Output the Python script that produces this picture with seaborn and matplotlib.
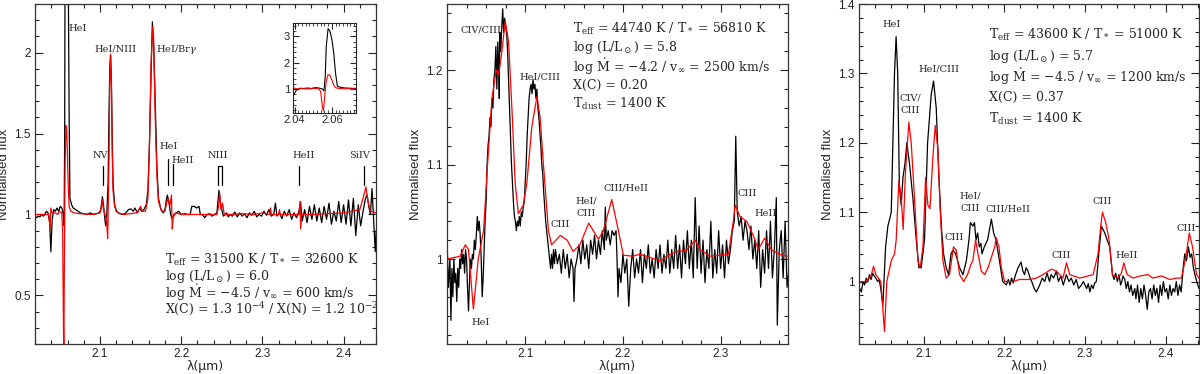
import numpy as np
import seaborn as sns
import matplotlib
matplotlib.use("Agg")
import matplotlib.pyplot as plt
from matplotlib.ticker import MultipleLocator, FuncFormatter

# ---- panel 1 : observed (black) and model (red) ----
p1_obs_wl = [2.020, 2.022, 2.024, 2.026, 2.028, 2.030, 2.032, 2.034, 2.036, 2.038,
             2.0395, 2.041, 2.043, 2.045, 2.047, 2.049, 2.051, 2.053, 2.055, 2.0558,
             2.0565, 2.057, 2.058, 2.059, 2.060, 2.061, 2.062, 2.063, 2.065, 2.067,
             2.070, 2.073, 2.076, 2.080, 2.084, 2.088, 2.092, 2.096, 2.099, 2.101,
             2.103, 2.1045, 2.106, 2.107, 2.108, 2.110, 2.111, 2.112, 2.113, 2.114,
             2.115, 2.116, 2.118, 2.120, 2.124, 2.128, 2.132, 2.135, 2.138, 2.141,
             2.143, 2.146, 2.149, 2.151, 2.154, 2.157, 2.159, 2.161, 2.163, 2.1645,
             2.166, 2.168, 2.170, 2.172, 2.175, 2.178, 2.180, 2.182, 2.183, 2.185,
             2.187, 2.189, 2.191, 2.194, 2.197, 2.200, 2.204, 2.208, 2.211, 2.213,
             2.216, 2.219, 2.222, 2.2235, 2.226, 2.229, 2.232, 2.235, 2.238, 2.241,
             2.244, 2.2465, 2.248, 2.250, 2.252, 2.254, 2.256, 2.258, 2.260, 2.263,
             2.266, 2.269, 2.272, 2.275, 2.278, 2.281, 2.284, 2.287, 2.290, 2.293,
             2.296, 2.299, 2.302, 2.305, 2.308, 2.311, 2.314, 2.316, 2.318, 2.321,
             2.324, 2.327, 2.330, 2.333, 2.336, 2.339, 2.342, 2.345, 2.347, 2.349,
             2.352, 2.355, 2.358, 2.361, 2.364, 2.367, 2.370, 2.373, 2.376, 2.379,
             2.382, 2.385, 2.388, 2.391, 2.394, 2.397, 2.400, 2.403, 2.406, 2.409,
             2.412, 2.415, 2.418, 2.421, 2.424, 2.427, 2.429, 2.431, 2.433, 2.435,
             2.437, 2.439, 2.440]
p1_obs_f = [0.99, 0.98, 0.99, 0.985, 1.0, 0.99, 1.0, 1.02, 1.01, 0.95,
            0.77, 0.96, 1.03, 1.02, 1.04, 1.02, 1.05, 1.04, 1.0, 0.93,
            1.5, 2.6, 3.3, 3.2, 2.9, 2.4, 1.6, 1.1, 1.06, 1.04,
            1.03, 1.02, 1.01, 1.005, 1.0, 1.01, 1.0, 1.005, 1.01, 1.03,
            1.11, 1.05, 0.97, 0.93, 0.96, 1.2, 1.6, 1.9, 1.98, 1.85,
            1.5, 1.2, 1.06, 1.02, 1.005, 1.0, 1.01, 1.03, 1.035, 1.02,
            1.04, 1.01, 1.04, 1.02, 1.03, 1.06, 1.15, 1.45, 1.9, 2.19,
            2.05, 1.7, 1.3, 1.1, 1.03, 1.01, 1.03, 1.1, 1.12, 1.07,
            1.0, 0.97, 1.0, 1.01, 1.02, 1.0, 1.005, 1.0, 1.0, 1.05,
            1.05, 1.04, 1.05, 1.0, 1.0, 0.98, 1.0, 1.005, 0.99, 1.0,
            1.01, 1.15, 1.08, 1.03, 0.99, 1.0, 1.01, 0.985, 1.0, 0.99,
            1.015, 0.985, 1.01, 0.99, 1.005, 0.98, 1.01, 0.995, 1.02, 0.985,
            1.0, 0.99, 1.02, 0.995, 1.03, 0.99, 1.0, 1.07, 0.99, 1.01,
            0.975, 1.02, 0.99, 1.03, 0.97, 1.01, 0.98, 1.02, 1.08, 0.96,
            1.03, 0.95, 1.05, 0.97, 1.06, 0.96, 1.04, 0.95, 1.05, 0.97,
            1.07, 0.94, 1.02, 0.96, 1.08, 0.95, 1.06, 0.94, 1.09, 0.93,
            1.1, 0.87, 1.06, 0.93, 1.02, 1.1, 1.12, 1.05, 1.0, 1.16,
            0.96, 0.77, 0.9]

p1_mod_wl = [2.020, 2.030, 2.037, 2.0385, 2.0395, 2.041, 2.045, 2.048, 2.050, 2.053,
             2.054, 2.055, 2.0555, 2.056, 2.057, 2.058, 2.059, 2.060, 2.061, 2.062,
             2.064, 2.068, 2.075, 2.090, 2.100, 2.102, 2.103, 2.104, 2.106, 2.108,
             2.1095, 2.111, 2.112, 2.113, 2.114, 2.115, 2.116, 2.118, 2.122, 2.130,
             2.145, 2.148, 2.150, 2.152, 2.156, 2.159, 2.161, 2.163, 2.165, 2.166,
             2.168, 2.170, 2.172, 2.176, 2.180, 2.182, 2.184, 2.186, 2.188, 2.189,
             2.190, 2.193, 2.200, 2.230, 2.244, 2.246, 2.2475, 2.249, 2.251, 2.253,
             2.260, 2.275, 2.290, 2.300, 2.309, 2.310, 2.311, 2.320, 2.321, 2.322,
             2.345, 2.3465, 2.347, 2.3485, 2.360, 2.400, 2.420, 2.425, 2.4275, 2.430,
             2.433, 2.440]
p1_mod_f = [1.0, 1.0, 1.0, 0.91, 1.04, 1.01, 1.01, 1.0, 1.02, 1.01,
            0.9, 0.3, 0.17, 0.6, 1.3, 1.55, 1.52, 1.35, 1.15, 1.05,
            1.02, 1.01, 1.005, 1.0, 1.01, 1.05, 1.09, 1.04, 1.0, 0.97,
            0.85, 1.3, 1.8, 1.99, 1.8, 1.4, 1.15, 1.05, 1.01, 1.0,
            1.01, 1.03, 1.05, 1.02, 1.02, 1.1, 1.45, 1.95, 2.16, 2.1,
            1.6, 1.25, 1.08, 1.02, 1.02, 1.07, 1.1, 1.05, 1.12, 0.91,
            0.98, 1.01, 1.0, 1.0, 1.0, 1.05, 1.13, 1.03, 1.07, 1.0,
            1.0, 1.005, 1.0, 1.01, 1.0, 1.04, 1.0, 1.0, 1.03, 1.0,
            1.0, 1.08, 0.91, 1.0, 1.0, 1.01, 1.03, 1.12, 1.17, 1.08,
            1.02, 1.01]

# ---- panel 2 ----
p2_obs_wl = [2.020, 2.0215, 2.023, 2.024, 2.025, 2.026, 2.027, 2.028, 2.029, 2.030,
             2.031, 2.032, 2.033, 2.034, 2.035, 2.036, 2.037, 2.038, 2.039, 2.040,
             2.041, 2.042, 2.043, 2.044, 2.045, 2.046, 2.047, 2.048, 2.049, 2.050,
             2.051, 2.052, 2.053, 2.054, 2.055, 2.056, 2.057, 2.058, 2.059, 2.060,
             2.061, 2.062, 2.063, 2.064, 2.065, 2.066, 2.067, 2.068, 2.069, 2.070,
             2.071, 2.072, 2.073, 2.0735, 2.074, 2.075, 2.076, 2.077, 2.078, 2.079,
             2.080, 2.081, 2.082, 2.083, 2.084, 2.085, 2.086, 2.087, 2.088, 2.089,
             2.090, 2.091, 2.092, 2.093, 2.094, 2.095, 2.096, 2.097, 2.098, 2.099,
             2.100, 2.101, 2.102, 2.103, 2.104, 2.105, 2.106, 2.107, 2.108, 2.109,
             2.110, 2.111, 2.112, 2.113, 2.114, 2.115, 2.116, 2.117, 2.118, 2.119,
             2.120, 2.121, 2.122, 2.123, 2.124, 2.125, 2.126, 2.127, 2.128, 2.129,
             2.130, 2.131, 2.133, 2.135, 2.137, 2.139, 2.141, 2.143, 2.145, 2.147,
             2.149, 2.150, 2.151, 2.153, 2.155, 2.157, 2.159, 2.161, 2.163, 2.165,
             2.167, 2.169, 2.171, 2.173, 2.175, 2.177, 2.179, 2.181, 2.182, 2.183,
             2.185, 2.187, 2.189, 2.191, 2.193, 2.194, 2.195, 2.196, 2.198, 2.200,
             2.202, 2.204, 2.206, 2.208, 2.210, 2.212, 2.214, 2.216, 2.218, 2.220,
             2.222, 2.224, 2.226, 2.228, 2.230, 2.232, 2.234, 2.236, 2.238, 2.240,
             2.242, 2.244, 2.246, 2.248, 2.250, 2.252, 2.254, 2.256, 2.258, 2.260,
             2.262, 2.264, 2.266, 2.268, 2.270, 2.272, 2.274, 2.276, 2.278, 2.280,
             2.282, 2.284, 2.286, 2.288, 2.290, 2.292, 2.294, 2.296, 2.298, 2.300,
             2.302, 2.304, 2.306, 2.308, 2.310, 2.312, 2.314, 2.3155, 2.317, 2.319,
             2.321, 2.323, 2.325, 2.327, 2.329, 2.331, 2.333, 2.335, 2.337, 2.339,
             2.341, 2.343, 2.345, 2.347, 2.349, 2.351, 2.353, 2.355, 2.357, 2.358,
             2.360, 2.362, 2.364, 2.366, 2.368, 2.370]
p2_obs_f = [1.02, 0.97, 1.0, 0.935, 0.99, 0.96, 1.0, 0.975, 0.985, 0.955,
            0.99, 0.97, 1.0, 0.99, 1.01, 0.995, 1.005, 0.985, 1.01, 1.0,
            0.97, 0.945, 0.975, 1.0, 0.99, 1.005, 1.0, 1.02, 1.01, 1.025,
            1.045, 1.03, 1.04, 1.025, 1.0, 0.96, 0.98, 1.01, 1.04, 1.06,
            1.1, 1.12, 1.13, 1.15, 1.14, 1.17, 1.16, 1.19, 1.2, 1.225,
            1.18, 1.23, 1.2, 1.17, 1.24, 1.22, 1.245, 1.265, 1.24, 1.255,
            1.245, 1.24, 1.22, 1.19, 1.16, 1.13, 1.1, 1.08, 1.06, 1.045,
            1.04, 1.03, 1.04, 1.035, 1.045, 1.035, 1.05, 1.045, 1.055, 1.06,
            1.08, 1.1, 1.13, 1.15, 1.17, 1.18, 1.185, 1.175, 1.19, 1.18,
            1.185, 1.17, 1.18, 1.16, 1.15, 1.135, 1.12, 1.1, 1.09, 1.07,
            1.055, 1.04, 1.03, 1.02, 1.01, 1.0, 0.99, 1.005, 0.99, 1.01,
            0.995, 1.01, 0.995, 1.005, 0.985, 1.01, 0.99, 1.005, 0.98, 1.0,
            0.99, 0.955, 0.99, 1.0, 1.015, 0.995, 1.02, 1.0, 1.015, 0.99,
            1.02, 1.005, 1.025, 1.0, 1.02, 1.005, 1.03, 1.01, 1.055, 1.02,
            1.03, 1.015, 1.03, 1.025, 1.03, 1.0, 0.96, 0.99, 0.975, 1.005,
            0.985, 1.0, 0.95, 0.99, 1.01, 0.98, 1.0, 0.985, 1.01, 0.975,
            1.005, 0.99, 1.015, 0.985, 1.0, 0.98, 1.01, 0.99, 1.015, 0.985,
            1.005, 0.99, 1.02, 0.985, 1.01, 0.99, 1.025, 0.99, 1.015, 0.98,
            1.02, 0.995, 1.03, 0.99, 1.02, 0.98, 1.065, 0.99, 1.035, 0.985,
            1.02, 0.975, 1.01, 0.99, 1.04, 0.98, 1.01, 0.985, 1.03, 0.99,
            1.015, 0.98, 1.02, 0.995, 1.01, 1.03, 1.04, 1.13, 1.05, 1.035,
            1.045, 1.02, 1.04, 1.03, 1.01, 1.035, 1.0, 1.02, 0.99, 1.03,
            0.97, 1.01, 0.985, 1.03, 0.99, 1.04, 0.98, 1.01, 1.065, 0.93,
            1.01, 1.03, 0.98, 1.04, 0.97, 0.99]

p2_mod_wl = [2.020, 2.0335, 2.0387, 2.042, 2.047, 2.052, 2.0574, 2.0615, 2.066, 2.0704,
             2.0728, 2.0762, 2.0796, 2.083, 2.0864, 2.0898, 2.093, 2.098, 2.1017, 2.1068,
             2.112, 2.1153, 2.1187, 2.1238, 2.127, 2.136, 2.143, 2.149, 2.156, 2.165,
             2.175, 2.180, 2.1886, 2.1954, 2.2005, 2.210, 2.2175, 2.238, 2.245, 2.255,
             2.265, 2.274, 2.279, 2.289, 2.308, 2.313, 2.315, 2.3198, 2.3266, 2.3334,
             2.3385, 2.345, 2.352, 2.360, 2.3685]
p2_mod_f = [1.0, 1.003, 1.015, 1.01, 0.947, 1.0, 1.03, 1.1, 1.17, 1.2,
            1.195, 1.22, 1.252, 1.23, 1.16, 1.08, 1.048, 1.057, 1.08, 1.14,
            1.172, 1.15, 1.1, 1.03, 1.015, 1.025, 1.02, 1.008, 1.015, 1.038,
            1.021, 1.03, 1.063, 1.03, 1.004, 1.003, 1.005, 0.998, 1.003, 1.008,
            1.009, 1.02, 1.01, 1.003, 1.005, 1.04, 1.057, 1.045, 1.04, 1.025,
            1.01, 1.022, 1.01, 1.005, 1.003]

# ---- panel 3 ----
p3_obs_wl = [2.0194, 2.021, 2.023, 2.025, 2.027, 2.029, 2.031, 2.033, 2.035, 2.037,
             2.039, 2.041, 2.043, 2.045, 2.047, 2.0496, 2.051, 2.053, 2.0558, 2.058,
             2.060, 2.062, 2.064, 2.066, 2.068, 2.070, 2.0723, 2.0745, 2.077, 2.0793,
             2.0826, 2.0868, 2.091, 2.0942, 2.0971, 2.1012, 2.105, 2.1095, 2.1124, 2.1157,
             2.119, 2.122, 2.1248, 2.128, 2.131, 2.134, 2.1364, 2.1397, 2.1446, 2.1488,
             2.153, 2.1562, 2.158, 2.161, 2.163, 2.165, 2.167, 2.169, 2.171, 2.1723,
             2.1752, 2.1793, 2.184, 2.1868, 2.1897, 2.194, 2.198, 2.2025, 2.205, 2.207,
             2.209, 2.211, 2.214, 2.217, 2.2207, 2.223, 2.225, 2.227, 2.2293, 2.232,
             2.234, 2.237, 2.2397, 2.2438, 2.247, 2.250, 2.253, 2.256, 2.258, 2.261,
             2.2645, 2.267, 2.270, 2.273, 2.2769, 2.280, 2.283, 2.286, 2.289, 2.292,
             2.2955, 2.298, 2.302, 2.304, 2.306, 2.308, 2.310, 2.312, 2.314, 2.317,
             2.3202, 2.3244, 2.3273, 2.3306, 2.3339, 2.336, 2.338, 2.340, 2.342, 2.344,
             2.3455, 2.347, 2.3492, 2.351, 2.353, 2.355, 2.357, 2.359, 2.3616, 2.363,
             2.365, 2.367, 2.369, 2.371, 2.373, 2.375, 2.377, 2.379, 2.381, 2.383,
             2.385, 2.387, 2.389, 2.391, 2.393, 2.395, 2.397, 2.399, 2.401, 2.403,
             2.405, 2.407, 2.409, 2.411, 2.413, 2.415, 2.417, 2.419, 2.4215, 2.4235,
             2.4255, 2.428, 2.430, 2.432, 2.4342, 2.436, 2.4383, 2.441]
p3_obs_f = [0.98, 0.99, 0.985, 1.0, 0.995, 1.005, 1.0, 1.01, 1.003, 1.012,
            1.008, 1.005, 1.0, 1.003, 0.99, 0.966, 1.0, 1.05, 1.08, 1.09,
            1.1, 1.2, 1.3, 1.353, 1.3, 1.14, 1.11, 1.15, 1.17, 1.2,
            1.17, 1.12, 1.06, 1.02, 1.02, 1.06, 1.2, 1.27, 1.289, 1.25,
            1.15, 1.08, 1.04, 1.02, 1.01, 1.04, 1.045, 1.04, 1.02, 1.01,
            1.03, 1.06, 1.085, 1.08, 1.085, 1.06, 1.07, 1.05, 1.055, 1.04,
            1.05, 1.06, 1.09, 1.07, 1.06, 1.03, 1.0, 0.995, 1.003, 0.995,
            1.005, 0.998, 1.01, 1.02, 1.028, 1.015, 1.01, 1.02, 1.015, 1.005,
            1.0, 0.99, 0.985, 0.995, 1.005, 1.0, 1.012, 1.0, 1.01, 1.005,
            1.015, 1.0, 1.008, 0.995, 1.01, 1.0, 1.005, 0.995, 1.003, 0.99,
            0.995, 1.0, 0.99, 0.997, 0.985, 0.995, 0.99, 0.998, 1.0, 1.04,
            1.08, 1.07, 1.06, 1.05, 1.01, 1.003, 1.012, 1.0, 1.01, 0.995,
            1.0, 1.008, 1.003, 0.99, 1.0, 0.985, 0.995, 0.98, 0.99, 0.975,
            0.995, 0.97, 0.99, 0.975, 0.995, 0.98, 0.96, 0.985, 0.99, 0.975,
            0.995, 0.98, 0.99, 0.97, 0.995, 0.98, 1.0, 0.985, 0.99, 0.975,
            0.995, 0.98, 0.99, 0.985, 1.0, 0.98, 0.995, 0.985, 1.02, 1.04,
            1.03, 1.05, 1.035, 1.04, 1.02, 1.01, 1.0, 0.99]

p3_mod_wl = [2.0194, 2.0285, 2.0347, 2.038, 2.0409, 2.0471, 2.0516, 2.0545, 2.06, 2.0641,
             2.0661, 2.0694, 2.0723, 2.0748, 2.0777, 2.0818, 2.0847, 2.0888, 2.093, 2.0959,
             2.0992, 2.1025, 2.1054, 2.1079, 2.1116, 2.1145, 2.1178, 2.1207, 2.124, 2.128,
             2.1322, 2.137, 2.1405, 2.1446, 2.1496, 2.1545, 2.1587, 2.161, 2.1645, 2.1674,
             2.1715, 2.1757, 2.1798, 2.184, 2.1881, 2.19, 2.1934, 2.1963, 2.2004, 2.2107,
             2.219, 2.2314, 2.2397, 2.248, 2.2583, 2.2645, 2.2727, 2.277, 2.281, 2.2934,
             2.31, 2.3161, 2.3194, 2.3215, 2.3256, 2.3298, 2.334, 2.3409, 2.345, 2.348,
             2.3521, 2.3595, 2.3678, 2.378, 2.384, 2.3946, 2.405, 2.4132, 2.4194, 2.4248,
             2.429, 2.4331, 2.438, 2.441]
p3_mod_f = [1.0, 1.0, 1.007, 1.022, 1.01, 1.0, 0.928, 1.0, 1.03, 1.04,
            1.06, 1.145, 1.12, 1.075, 1.16, 1.23, 1.2, 1.12, 1.03, 1.02,
            1.05, 1.15, 1.11, 1.105, 1.18, 1.225, 1.19, 1.1, 1.03, 1.005,
            1.01, 1.05, 1.045, 1.01, 1.0, 1.01, 1.025, 1.03, 1.06, 1.04,
            1.015, 1.01, 1.02, 1.035, 1.05, 1.063, 1.05, 1.02, 1.0, 1.0,
            1.003, 1.003, 1.005, 1.01, 1.018, 1.015, 1.005, 1.027, 1.01, 1.005,
            1.01, 1.04, 1.08, 1.1, 1.085, 1.06, 1.01, 1.005, 1.012, 1.027,
            1.01, 1.005, 1.008, 1.01, 1.005, 1.008, 1.003, 1.005, 1.005, 1.035,
            1.07, 1.05, 1.01, 1.005]

# line identifications (label, wavelength, flux)
p1_labels = [("HeI", 2.0725, 2.15), ("HeI/NIII", 2.1193, 2.02), (r"HeI/Br$\gamma$", 2.194, 2.02),
             ("NV", 2.101, 1.366), ("HeI", 2.185, 1.417), ("HeII", 2.2016, 1.335),
             ("NIII", 2.2445, 1.366), ("HeII", 2.3505, 1.366), ("SiIV", 2.4195, 1.366)]
p1_ticks = [2.1033, 2.1837, 2.1893, 2.3448, 2.4252]
p1_tick_top = [1.298, 1.345, 1.31, 1.298, 1.298]
p2_labels = [("CIV/CIII", 2.055, 1.243), ("HeI/CIII", 2.1153, 1.193), ("CIII", 2.1361, 1.037),
             ("HeI/\nCIII", 2.162, 1.055), ("CIII/HeII", 2.2032, 1.075), ("CIII", 2.3273, 1.069),
             ("HeII", 2.3463, 1.048), ("HeI", 2.0547, 0.933)]
p3_labels = [("HeI", 2.0599, 1.371), ("CIV/\nCIII", 2.0839, 1.255), ("HeI/CIII", 2.119, 1.307),
             ("CIII", 2.1384, 1.064), ("HeI/\nCIII", 2.1583, 1.115), ("CIII/HeII", 2.2045, 1.105),
             ("CIII", 2.2707, 1.037), ("CIII", 2.3207, 1.115), ("HeII", 2.3512, 1.037),
             ("CIII", 2.4256, 1.077)]

p1_text = [r"T$_{\rm eff}$ = 31500 K / T$_*$ = 32600 K",
           r"log (L/L$_\odot$) = 6.0",
           r"log $\dot{\rm M}$ = $-$4.5 / v$_\infty$ = 600 km/s",
           r"X(C) = 1.3 10$^{-4}$ / X(N) = 1.2 10$^{-2}$"]
p2_text = [r"T$_{\rm eff}$ = 44740 K / T$_*$ = 56810 K",
           r"log (L/L$_\odot$) = 5.8",
           r"log $\dot{\rm M}$ = $-$4.2 / v$_\infty$ = 2500 km/s",
           r"X(C) = 0.20",
           r"T$_{\rm dust}$ = 1400 K"]
p3_text = [r"T$_{\rm eff}$ = 43600 K / T$_*$ = 51000 K",
           r"log (L/L$_\odot$) = 5.7",
           r"log $\dot{\rm M}$ = $-$4.5 / v$_\infty$ = 1200 km/s",
           r"X(C) = 0.37",
           r"T$_{\rm dust}$ = 1400 K"]

sns.set_style("ticks")
plt.rcParams['font.family'] = ['Liberation Sans', 'DejaVu Sans']
plt.rcParams['mathtext.fontset'] = 'dejavuserif'

SERIF = 'DejaVu Serif'


def style_axes(ax, xlim, ylim, xminor, ymajor, yminor, fs=8.5):
    ax.set_xlim(*xlim)
    ax.set_ylim(*ylim)
    ax.xaxis.set_major_locator(MultipleLocator(0.1))
    ax.xaxis.set_minor_locator(MultipleLocator(xminor))
    ax.yaxis.set_major_locator(MultipleLocator(ymajor))
    ax.yaxis.set_minor_locator(MultipleLocator(yminor))
    fmt = FuncFormatter(lambda v, p: "%g" % round(v, 3))
    ax.xaxis.set_major_formatter(fmt)
    ax.yaxis.set_major_formatter(fmt)
    ax.tick_params(which='both', direction='in', top=True, right=True,
                   labelsize=fs, width=0.8, colors='#222222', pad=3)
    ax.tick_params(which='major', length=6)
    ax.tick_params(which='minor', length=3)
    for s in ax.spines.values():
        s.set_linewidth(0.9)
        s.set_color('#333333')
    ax.set_xlabel("λ(μm)", fontsize=9, family=['DejaVu Sans'])
    ax.xaxis.set_label_coords(0.5, -0.047)
    ax.set_ylabel("Normalised flux", fontsize=9.5, labelpad=3)


def draw(ax, wo, fo, wm, fm, lw=0.9):
    sns.lineplot(x=wo, y=fo, color='black', lw=lw, ax=ax, estimator=None, sort=False)
    sns.lineplot(x=wm, y=fm, color='red', lw=lw, ax=ax, estimator=None, sort=False)


def put_text(ax, lines, x, ys, fs=9):
    for t, y in zip(lines, ys):
        ax.text(x, y, t, fontsize=fs, family=SERIF, va='center', ha='left')


def put_labels(ax, labels, fs=7):
    for t, x, y in labels:
        ax.text(x, y, t, fontsize=fs, family=SERIF, ha='center', va='center',
                linespacing=1.5)


fig = plt.figure(figsize=(12, 3.74), dpi=100)

ax1 = fig.add_axes([0.0292, 0.0802, 0.2842, 0.909])
draw(ax1, p1_obs_wl, p1_obs_f, p1_mod_wl, p1_mod_f)
style_axes(ax1, (2.02, 2.44), (0.2, 2.3), 0.02, 0.5, 0.1)
put_labels(ax1, p1_labels)
for x, top in zip(p1_ticks, p1_tick_top):
    ax1.plot([x, x], [1.18, top], color='black', lw=0.9)
ax1.plot([2.2457, 2.2457, 2.2498, 2.2498], [1.18, 1.298, 1.298, 1.18], color='black', lw=0.9)
put_text(ax1, p1_text, 2.1804, [0.718, 0.62, 0.516, 0.42])

ins = fig.add_axes([0.2439, 0.6987, 0.0528, 0.239])
draw(ins, p1_obs_wl, p1_obs_f, p1_mod_wl, p1_mod_f, lw=0.8)
ins.set_xlim(2.039, 2.073)
ins.set_ylim(0.1, 3.5)
ins.xaxis.set_major_locator(MultipleLocator(0.02))
ins.xaxis.set_minor_locator(MultipleLocator(0.002))
ins.yaxis.set_major_locator(MultipleLocator(1))
ins.yaxis.set_minor_locator(MultipleLocator(0.2))
ins.xaxis.set_major_formatter(FuncFormatter(lambda v, p: "%g" % round(v, 3)))
ins.tick_params(which='both', direction='in', top=True, right=True, labelsize=8, pad=2)
ins.tick_params(which='major', length=4)
ins.tick_params(which='minor', length=2)
ins.set_xlabel("")
ins.set_ylabel("")

ax2 = fig.add_axes([0.3725, 0.0802, 0.2842, 0.909])
draw(ax2, p2_obs_wl, p2_obs_f, p2_mod_wl, p2_mod_f)
style_axes(ax2, (2.02, 2.369), (0.91, 1.27), 0.02, 0.1, 0.02)
put_labels(ax2, p2_labels)
put_text(ax2, p2_text, 2.1494, [1.244, 1.2236, 1.2035, 1.1838, 1.1637])

ax3 = fig.add_axes([0.7158, 0.0802, 0.2833, 0.909])
draw(ax3, p3_obs_wl, p3_obs_f, p3_mod_wl, p3_mod_f)
style_axes(ax3, (2.02, 2.441), (0.91, 1.4), 0.02, 0.1, 0.02)
put_labels(ax3, p3_labels)
put_text(ax3, p3_text, 2.1806, [1.356, 1.325, 1.295, 1.265, 1.235])

fig.savefig("out.png", dpi=100)
